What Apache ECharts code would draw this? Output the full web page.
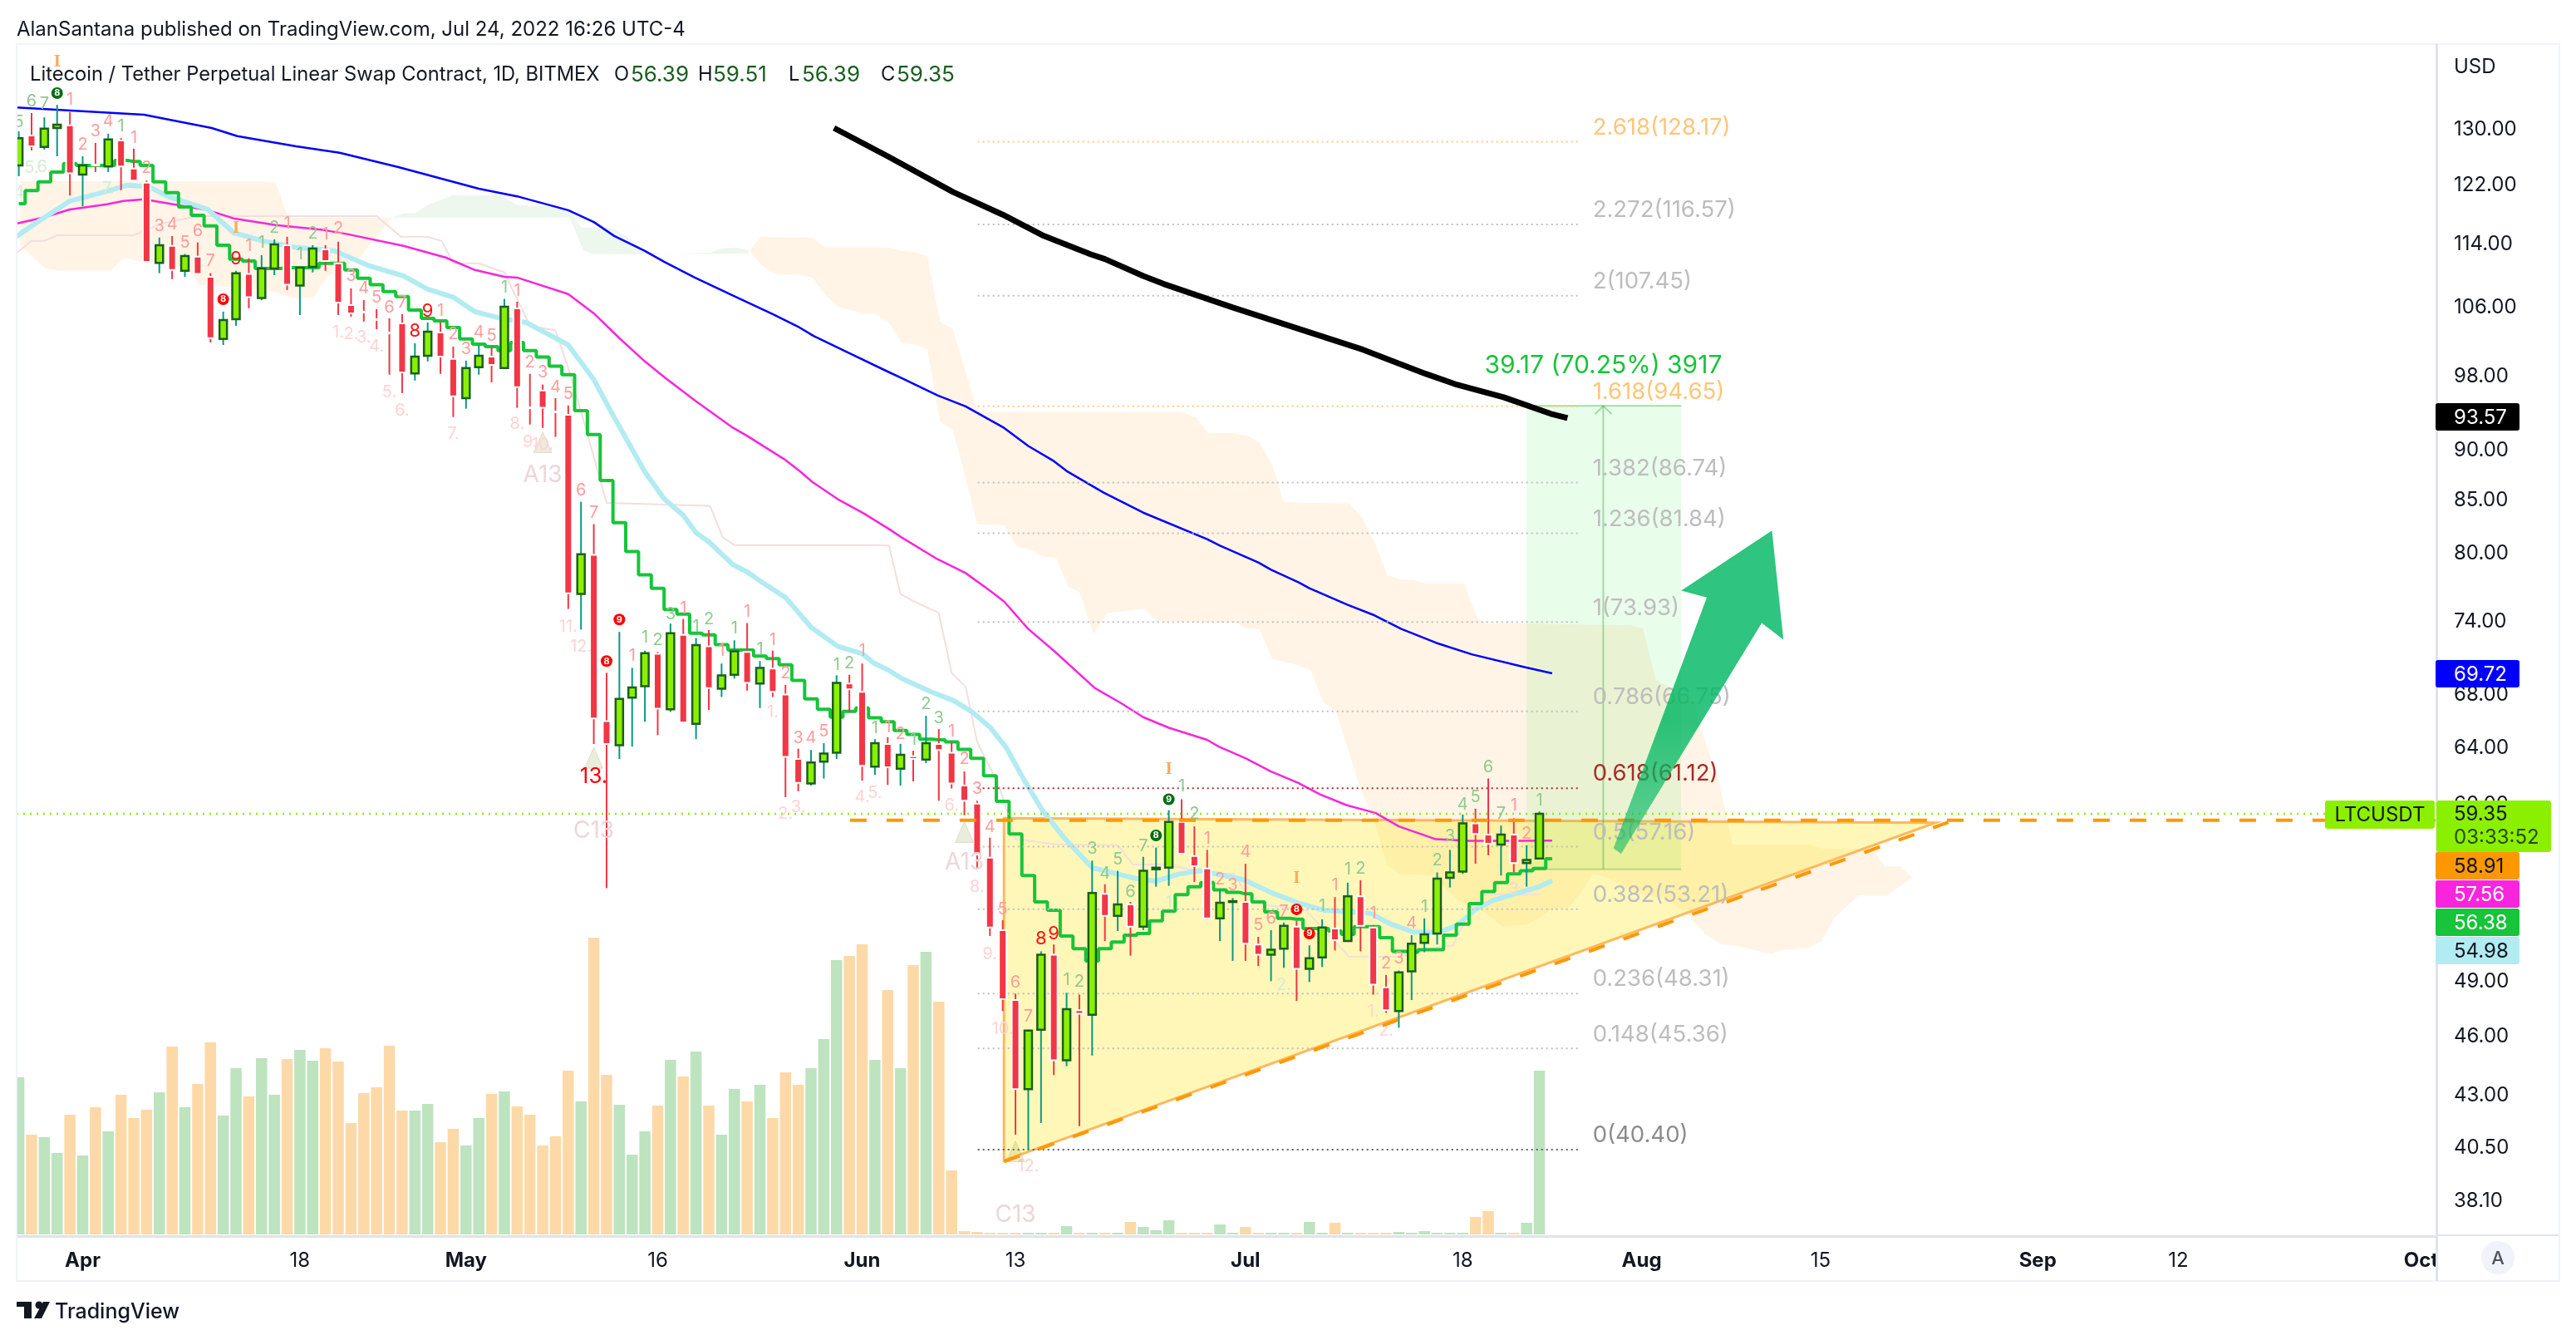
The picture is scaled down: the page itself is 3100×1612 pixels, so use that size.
<!DOCTYPE html>
<html><head><meta charset="utf-8">
<style>html,body{margin:0;padding:0;background:#fff}#c{width:3100px;height:1612px}</style>
<script src="https://cdn.jsdelivr.net/npm/echarts@6/dist/echarts.min.js"></script>
</head><body><div id="c"></div>
<script>
// Daily candles: first candle is day -5 (27 Mar), day 0 is 1 Apr 2022
const firstDay = -5;
const opens = [124.75,129.1,127.4,130.2,130.6,123.45,124.85,124.6,128.35,124.3,122.3,111.55,113.75,110.55,112.35,109.8,102.25,104.6,110.15,107.15,110.85,113.85,108.7,111.05,113.3,111.5,106.3,105.5,104.6,103,104.1,98.3,100.3,103,99.95,95.55,99,100.2,98.9,105.9,94.55,96.4,94.1,93.75,76.35,79.85,66,64.2,67.8,68.7,71.3,66.9,72.85,65.8,71.9,68.5,69.6,71.45,68.9,70.1,68.05,63.2,61.45,63,63.65,68.9,68.25,62.65,64.3,62.5,63.4,63.15,64.3,63.65,61.3,60.05,56.45,51.95,47.95,43.3,46.35,50.5,44.75,47.4,47.15,54.15,52.8,53.5,52.15,55.7,55.8,58.8,56.55,55.75,52.65,53.65,53.65,51.1,50.5,50.85,52.15,49.7,50.35,52.05,51.3,54,52.1,48.65,47.35,49.55,51.2,51.75,55.15,55.55,58.7,57.95,57.3,57.95,56.1,56.39];
const highs = [129.7,132.45,131.8,133.7,132.6,126.05,128,129.35,128.7,127.15,122.6,114.85,115.05,112.7,114.2,110.25,105.5,110.55,112.15,112.55,114.6,114.95,111.05,113.85,113.85,114.3,108.35,106.9,105.8,104.7,105.2,101.75,104.2,104.2,101.35,99.75,101.55,101.3,107.05,106.7,98.25,97.05,95.55,94.75,84.85,82.7,69.75,73.1,70.15,71.55,71.45,73.8,74.2,72.6,73.25,70.5,72.4,73.85,70.7,71.55,68.8,63.95,63.85,64.35,69.55,69.6,70.5,64.65,64.8,64.3,63.8,66.4,65.4,64.4,62.3,60.25,57.75,52.55,48.3,46.35,50.7,51.1,48.35,48.25,56.25,54.75,55.6,53.65,56.5,57.1,59.6,60.35,58.5,56.95,54.4,53.9,56.05,51.55,51.95,52.4,52.5,51.05,52.6,53.95,54.85,55,52.25,49.35,49.6,51.65,52.65,55.5,56.95,59.3,59.7,61.8,58.55,59.05,57.25,59.51];
const lows = [123.2,126.9,127,126.05,120.5,119.05,123.8,123.8,121.25,122.5,111.7,110.25,109.5,109.8,110.1,101.85,101.55,103.8,105.9,106.9,110,108.15,105.1,110.35,110.55,105.1,104.9,104.3,103.4,98.15,96.1,97.5,99.65,98.25,93.5,94.4,98.15,97.3,98.85,94.5,92.7,92.35,91.4,75.05,73.3,64.3,54.5,63.2,64.1,65.95,64.95,66.7,65.85,64.65,66.85,67.85,69.3,68.35,67,67.85,60.5,60.9,61.3,61.8,63.2,66.7,61.65,62.05,61.35,61.3,61.6,62.9,60.25,61.1,59.25,55.7,51.6,47.35,41.1,40.4,41.65,44,44.45,41.5,45,51.3,51.9,50.45,51.95,54.6,54.65,56.65,54.9,52.6,51.3,50.15,50.15,49.85,49,49.75,47.9,48.95,49.8,50.75,51.25,50.7,48.25,47.25,46.45,47.95,50.65,51.1,54.55,55.4,56.05,56.6,55.3,55.5,54.6,56.39];
const closes = [128.7,127.5,130.1,130.7,123.6,124.75,124.75,128.5,124.6,122.6,111.7,113.85,110.65,112.45,110.15,102.35,104.5,110.25,107.25,110.85,113.95,108.8,110.95,113.4,111.8,106.6,105.3,105.4,104.5,102.9,98.4,100.2,103.1,100.2,95.75,98.9,100.3,99.25,106.1,96.75,94.45,94.5,94.05,76.4,79.9,66.2,64.3,67.7,68.6,71.35,66.95,73,65.9,72,68.55,69.55,71.5,68.95,70.15,68.25,63.35,61.5,62.95,63.6,68.95,68.45,62.7,64.35,62.6,63.5,63.2,64.35,63.85,61.45,60.25,56.65,52.1,48,43.3,46.3,50.5,44.75,47.45,47.2,54.2,52.8,53.5,52.15,55.6,55.8,58.8,56.7,55.9,52.65,53.6,53.7,51.15,50.5,50.8,52.2,49.7,50.3,52.1,51.35,54,52.2,48.8,47.4,49.5,51.15,51.7,55.1,55.5,58.7,58,57.35,57.95,56.1,56.3,59.35];
const volumes = [189,120,117,98,144,95,153,124,168,140,150,171,226,153,181,231,143,200,166,212,168,211,222,209,224,208,134,170,177,227,149,149,157,111,127,107,140,169,172,154,144,107,118,197,160,357,192,156,96,124,155,210,190,220,155,120,175,160,180,140,195,180,200,235,330,335,349,210,294,200,324,340,280,77,4,3,2,2,2,2,2,2,10,2,2,2,2,15,9,5,17,2,2,2,12,2,9,2,2,2,2,15,2,14,2,2,2,2,3,2,4,2,2,2,21,28,2,2,14,197];

// Moving averages, read at their bends
const blueDays = [-5.2,4.8,10.1,12.1,16.7,20.1,24.7,31,34,38,40,41.6,44,45.5,47.9,50.9,54,56.1,57.2,60,63,64.2,66.9,69.1,72.1,74,76,77,79.9,83,88,89,92,93,95.2,96,99,101.1,103.2,105.9,108.7,112.9,115];
const blueValues = [133.3,132.2,130.2,129,127.5,126.55,124.5,121.45,120.4,118.5,116.9,115.05,113.1,111.7,109.7,107.45,105.2,103.6,102.6,100.6,98.5,97.7,95.85,94.65,92.35,90.45,88.9,87.9,85.75,83.8,81.3,80.7,79.15,78.5,77.35,76.85,75.4,74.5,73.35,72.2,71.25,70.2,69.72];
const magentaDays = [-5.2,-3.1,-1,1.9,3.2,4.8,6.8,9.8,11.8,15.1,18.8,20.7,25.1,28.4,30.7,33,34,38,40,42,44,45.5,48,50.9,52,54.9,56.1,57.1,59.1,61.1,63.1,64.1,66.9,69.1,71,72.1,74,76,79.2,81.3,83,85,88,88.9,91,93,95.1,96.8,98.9,101.2,103,105.9,108.5,112,115];
const magentaValues = [116.7,117.5,118.6,119.3,119.75,120,119.4,118.5,117.4,116.5,115.85,115.3,113.75,112.25,110.65,109.8,109.7,107.65,105.3,102.35,99.65,97.9,95.2,92.35,91.5,89.1,87.9,86.8,85.1,83.75,82.25,81.45,79.45,78.2,76.65,75.7,73.35,71.55,68.55,67.35,66.3,65.5,64.6,64.1,63.25,62.3,61.5,60.7,59.95,59.4,58.5,57.65,57.55,57.55,57.56];
const cyanDays = [-5.2,-3.8,-2.6,-1,1.9,3.5,5.2,6.8,9.8,11.8,14.1,16.7,19.7,22.4,25.1,27,29,30.7,32.7,34.7,38,40,41.5,44,45.5,47,48,49,50.9,52,53.2,55,57,59.1,61,61.9,63.1,64.1,66.4,68.2,69.6,71,72.3,73.7,75.1,76.9,79,82.5,84,85.8,87.5,90.8,93.1,95.1,97.1,99.1,100.8,102.4,104.1,106.1,107.6,109,110.4,112.3,114,115];
const cyanValues = [114.95,116.6,117.95,119.75,121.1,121.95,121.7,120.3,118.6,115.5,114.4,113.55,113.1,111.2,109.9,108.25,107.25,105.5,104.7,104.2,101.55,97.6,93.7,87.8,85.15,83.55,81.9,81.05,78.95,78.3,77.35,76.05,73.5,71.9,71.3,70.55,69.95,69.3,68.25,67.55,66.7,65.55,64,61.65,59.6,57.65,55.8,55.1,54.95,55.4,55.6,55.05,54.2,53.6,53.15,53.05,52.95,52.3,51.85,51.8,52.25,53.2,53.75,54.2,54.6,54.98];
// Stepped green line, one value per day from day -5 to day 115
const stepValues = [119.4,121.2,122.4,123.8,125,124.75,124.75,124.75,125.45,125.3,124.75,122.4,120.9,118.95,117.8,116.4,113.85,112.05,111.8,110.85,110.85,110.95,110.95,110.95,111.5,111.5,110.65,109.6,108.8,107.95,107.35,105.7,104.7,104.4,103.6,102.25,101.65,101.35,100.9,101.85,100.9,100.15,99.1,98.15,94.2,91.65,86.95,82.85,80.15,78.05,76.85,75,74.6,73,72.85,72.05,71.6,71.6,71.1,70.9,70.4,69.15,67.7,66.9,66.3,66.75,67,66.25,65.95,65.3,65,64.65,64.6,64.45,63.9,63.25,62,60.2,58,55.3,53.65,53.15,51.6,50.85,50.15,50.85,51.25,51.65,51.75,52.5,53.1,54.1,54.6,54.85,54.4,54.25,54.15,53.65,53.05,52.65,52.6,52.05,52.05,51.9,51.7,52.15,52.15,51.5,50.7,50.65,50.8,50.8,51.65,52.3,53.55,54.3,54.85,55.4,55.6,55.75,56.38];
const paleDays = [-5.2,-4,-3,-2,4,6,8.1,9.5,23,24.9,27,28.1,29,31,33,35,37,38,39.1,41,49.1,50.1,51,62.1,63.1,64,65,67,68,69.1,70,71.1,71.8,73,76.3,81,82.2,84.8,87.8,90.1,90.8,92.4,95.7,99.1,103.1,106.4,107.2,108.7,109.7,114.1];
const paleValues = [112.8,114.4,114.4,115.15,115.15,116.6,117.4,117.7,117.7,114.95,114.95,114.4,111.5,111.5,110.35,103.8,103.25,98.9,93.68,84.75,84.45,81.45,80.75,80.75,80.7,76.35,75.75,74.7,69.75,68.65,64.45,62.4,61.05,57.67,57.3,57.25,56,56,55.5,55.4,54.5,53.5,53.15,50.4,50.4,51,51,53.3,54.1,54.1];
const blackDays = [58.8,63,68.1,72,75.1,78.9,80,83,84.6,90,100.2,105.1,107.4,111.2,114.9,116.2];
const blackValues = [130.2,126.05,121,117.9,115.15,112.65,112.05,109.9,108.9,106,101,98.25,97.1,95.65,93.85,93.4];

// Cloud outlines as [day, price] running round each region
const cloudOrangeA = [[-4.9,122.5],[14.1,122.5],[15.1,122.3],[16.1,117.5],[24.2,117.5],[21.8,112.45],[19.1,109.8],[18.1,107.25],[16.7,107.05],[14.4,108.15],[9.1,108.8],[8.6,110.15],[6.8,111.7],[4.5,111.7],[3.2,112.25],[2.2,110.55],[-2,110.55],[-3,110.95],[-4.9,113.85]];
const cloudGreen = [[24.2,117.5],[25.1,118.1],[26,118.1],[27,119.2],[29,120.55],[32.7,120.55],[34,119.2],[36.3,119.05],[38.1,118.5],[39,116.2],[41.6,116],[42.9,114.6],[44,113.1],[45.5,112.65],[49.1,112.9],[50,113.4],[51.1,113.55],[52.1,113.2],[52.1,112.75],[40,112.65],[39.2,113.1],[38.1,117.5]];
const cloudOrangeB = [[52.2,113.1],[53.1,115.05],[54,114.85],[57.1,114.85],[58.1,113.55],[63.1,113.55],[64.1,113.1],[65,113],[66.1,112.45],[67.1,104.3],[68.1,103.4],[69.1,98.5],[70,94.05],[86,94.05],[87.1,93.5],[88.1,91.8],[90.1,91.8],[91.1,91.55],[92.1,90.8],[93.1,88.5],[94,84.8],[99.1,84.7],[100.2,83.2],[101.1,81],[102.1,78],[103.2,77.6],[104.1,77.6],[105,77.3],[108.1,77.3],[109.1,74.35],[109.8,73.85],[121.2,73.65],[122.1,73.4],[123.1,69.2],[124.5,68.45],[126.1,67.45],[126.6,65.55],[128.1,61.45],[128.6,59.35],[129.1,57.3],[135.2,57.3],[136,57.05],[140.2,56.95],[141,55.9],[142.2,55.9],[143.2,55.2],[141.2,54.05],[139,54.05],[137.1,52.7],[136.1,51.3],[135.1,50.9],[133.1,50.8],[132.1,50.55],[129.5,51],[128.1,51.15],[127,51.7],[125.5,52.95],[124,53.8],[121.6,54.2],[119.1,55.25],[118.2,55.4],[117.3,54.3],[116.3,53.3],[115,53.2],[113.1,52.3],[111.1,52.15],[109.7,53.05],[107.6,53.8],[105.6,55.3],[103.1,55.4],[102.1,55.95],[101.1,58.8],[100,61.05],[98.1,66.7],[97.1,67.45],[96.1,69.95],[95,70.4],[93.1,70.85],[92.1,73.3],[91.1,73.35],[90.3,73.85],[84,74],[83.1,75.05],[80.2,74.7],[79.1,72.95],[78,76.5],[77.1,77],[76.2,79.55],[75.1,79.7],[74.2,80.3],[73.1,80.6],[72.1,82.6],[70,82.7],[69.1,87.2],[68.1,92.1],[67.1,93],[66.1,101.1],[65.2,101.6],[64.1,101.75],[63.2,104],[62.1,105.2],[61.1,105.3],[59.1,106.1],[58.1,107.55],[57.1,109.7],[56.1,110],[54.1,110.15],[53.1,111.3],[52.2,113]];

// Fibonacci levels
const fibLevels = ['2.618','2.272','2','1.618','1.382','1.236','1','0.786','0.618','0.5','0.382','0.236','0.148','0'];
const fibPrices = [128.17,116.57,107.45,94.65,86.74,81.84,73.93,66.75,61.12,57.16,53.21,48.31,45.36,40.40];
const fibLabels = ['2.618(128.17)','2.272(116.57)','2(107.45)','1.618(94.65)','1.382(86.74)','1.236(81.84)','1(73.93)','0.786(66.75)','0.618(61.12)','0.5(57.16)','0.382(53.21)','0.236(48.31)','0.148(45.36)','0(40.40)'];

// Drawings
const triangle = [[72.1,59.05],[145,58.75],[72.1,39.9]];
const supportLine = [[72.1,39.85],[146,58.78]];
const resistanceLine = [[60.05,58.91],[184.2,58.91]];
const positionBox = {fromDay:113,toDay:125.1,top:94.7,bottom:55.7,midDay:119,labelPrice:99.3,label:'39.17 (70.25%) 3917'};
const bigArrow = [[119.8,57.05],[127.1,76.05],[125.1,76.65],[132.2,82.1],[133.1,72.45],[131.4,73.85],[120.4,56.7]];
const lastPrice = 59.35;

// Sequence counters: [day, price, text, kind]
const tdMarks = [
[-5,131.05,'5','g'],[-4,134.2,'6','g'],[-3,133.85,'7','g'],[-2,135.5,'8','cg'],[-1,134.5,'1','r'],[-2,140.4,'I','i'],[0,127.75,'2','r'],[1,129.7,'3','r'],[2,131.2,'4','r'],[3,130.45,'1','g'],[4,128.7,'1','r'],[5,124.4,'2','r'],[-4,124.4,'5.','q'],[-3,124.5,'6.','q'],[-5,120.9,'4','q'],[2,121.45,'7.','q'],
[6,116.4,'3','r'],[7,116.6,'4','r'],[8,114.2,'5','r'],[9,115.7,'6','r'],[10,111.8,'7','r'],[12,116.05,'I','i'],[12,112.05,'9','R'],[11,107,'8','cr'],[13,113.75,'1','r'],[14,114.2,'1','g'],[15,116.15,'2','g'],[16,116.7,'1','r'],[17,112.65,'1','g'],[18,115.4,'2','g'],[19,115.3,'1','r'],[20,116.05,'2','r'],[21,109.9,'3','r'],[22,108.35,'4','r'],[23,107.25,'5','r'],[24,106,'6','r'],[25,106.6,'7','r'],[26,103.2,'8','R'],[27,105.6,'9','R'],[28,105.6,'1','r'],[29,102.85,'2','r'],[30,101.1,'3','r'],[31,103,'4','r'],[32,102.65,'5','r'],[33,108.45,'1','g'],[34,108.05,'1','r'],[35,99.55,'2','r'],[36,98.4,'3','r'],[37,96.75,'4','r'],[38,96,'5','r'],
[20,103,'1.','p'],[21,102.85,'2.','p'],[22,102.45,'3.','p'],[23,101.35,'4.','p'],[24,96.2,'5.','p'],[25,94.2,'6.','p'],[29,91.75,'7.','p'],[34,92.8,'8.','p'],[35,90.85,'9.','p'],[36,90.8,'','tri'],[36,90.6,'10.','p'],[36,87.5,'A13','big'],[39,86,'6','r'],[40,83.75,'7','r'],[38,73.55,'11.','p'],[39,71.9,'12.','p'],[41,70.7,'8','cr'],[42,74.15,'9','cr'],[40,63.25,'','tri'],[40,61.95,'13.','R13'],[40,58.2,'C13','big'],[43,71.1,'1','r'],[44,72.6,'1','g'],[45,72.45,'2','g'],
[46,74.6,'3','g'],[47,75.1,'1','r'],[48,73.55,'1','g'],[49,74.15,'2','g'],[50,71.5,'1','r'],[51,73.4,'1','g'],[52,74.8,'1','r'],[53,71.65,'1','g'],[54,72.45,'1','r'],[55,69.7,'2','r'],[54,66.65,'1.','p'],[56,64.75,'3','r'],[57,64.75,'4','r'],[58,65.25,'5','r'],[59,70.4,'1','g'],[60,70.55,'2','g'],[61,71.55,'1','r'],[62,65.5,'1','g'],[63,65.55,'1','r'],[64,65.05,'2','r'],[65,64.6,'1','g'],[66,67.3,'2','g'],[67,66.25,'3','g'],[68,65.25,'1','r'],[69,63.2,'2','r'],[70,61.05,'3','r'],[71,58.45,'4','r'],[72,53.2,'5','r'],[73,48.9,'6','r'],
[55,59.35,'2.','p'],[56,59.8,'3.','p'],[61,60.5,'4.','p'],[62,60.8,'5.','p'],[68,59.9,'6.','p'],[69,58.1,'','tri'],[69,56.15,'A13','big'],[70,54.6,'8.','p'],[71,50.55,'9.','p'],[72,46.4,'10.','p'],[74,39.65,'12.','p'],[73,40.3,'','tri'],[73,37.5,'C13','big'],
[74,47.05,'7','r'],[75,51.45,'8','R'],[76,51.75,'9','R'],[77,49.05,'1','g'],[78,48.95,'2','g'],[79,57,'3','g'],[80,55.4,'4','g'],[81,56.35,'5','g'],[82,54.25,'6','g'],[83,57.2,'7','g'],[84,57.9,'8','cg'],[85,60.35,'9','cg'],[85,62.45,'I','i'],[86,61.25,'1','g'],[87,59.35,'2','g'],[88,57.67,'1','r'],[89,55.05,'2','r'],[90,54.7,'3','r'],[91,56.8,'4','r'],[92,52.25,'5','r'],[93,52.65,'6','r'],[94,53.05,'7','r'],[95,53.2,'8','cr'],[96,51.75,'9','cr'],[97,53.4,'1','g'],[98,54.7,'1','r'],[99,55.7,'1','g'],[100,55.75,'2','g'],[101,52.95,'1','r'],[102,50,'2','r'],[103,50.3,'3','r'],[104,52.35,'4','r'],[105,53.35,'1','g'],[106,56.25,'2','g'],[107,57.85,'3','g'],[108,60,'4','g'],[109,60.5,'5','g'],[110,62.6,'6','g'],[111,59.35,'7','g'],[112,59.9,'1','r'],[113,58,'2','r'],[114,60.25,'1','g'],
[85,53.6,'1','q'],[94,48.8,'2.','q'],[101,47.3,'1.','p'],[102,46.3,'2.','p'],[112,54.45,'3','p'],[95,55.15,'I','i']
];

// Axis ticks
const priceTicks = [130,122,114,106,98,90,85,80,74,68,64,60,56,52,49,46,43,40.5,38.1];
const timeTicks = [0,17,30,45,61,73,91,108,122,136,153,164,183];
const timeLabels = ['Apr','18','May','16','Jun','13','Jul','18','Aug','15','Sep','12','Oct'];
const monthLabels = ['Apr','May','Jun','Jul','Aug','Sep','Oct'];

// Price tags of the right scale
const priceTags = [['93.57','#000000','#ffffff',485,33],['69.72','#0000ff','#ffffff',794,33],['58.91','#ff9800','#131722',1025,33],['57.56','#f726dc','#ffffff',1059,33],['56.38','#17c43a','#ffffff',1093,33],['54.98','#b2ebf2','#131722',1127,33]];

const FONT = 'Inter, "Liberation Sans", sans-serif';
const UP = '#8bf000', UP_EDGE = '#1b5e20', UP_WICK = '#089981', DOWN = '#f23645';
const tdStyle = {
  g:{fill:'#8fc98f',font:'20px '+FONT}, r:{fill:'#ff9c9c',font:'20px '+FONT},
  q:{fill:'#d5ecd5',font:'20px '+FONT}, p:{fill:'#ffd3d3',font:'20px '+FONT},
  R:{fill:'#ff1010',font:'22px '+FONT}, R13:{fill:'#ff0000',font:'26px '+FONT},
  big:{fill:'#edd6d8',font:'28px '+FONT}, i:{fill:'#ffa95c',font:'bold 21px "Liberation Serif", serif'}
};
const pairs = (xs, ys) => xs.map((x, i) => [x, ys[i]]);
const candleRows = opens.map((o, i) => [firstDay + i, o, highs[i], lows[i], closes[i]]);
const stepDays = stepValues.map((_, i) => firstDay + i);
const volumeRows = volumes.map((v, i) => [firstDay + i, v]);

const polySeries = (name, poly, fill, z, stroke) => ({
  type:'custom', name, z, silent:true, clip:true, data:[[poly[0][0], poly[0][1]]], encode:{x:0,y:1},
  renderItem:(p, api) => ({type:'polygon', shape:{points:poly.map(q => api.coord(q))},
    style:{fill, stroke:stroke||null, lineWidth:stroke?3:0}})
});
const lineSeries = (name, data, color, width, z, extra) => Object.assign({
  type:'line', name, data, showSymbol:false, symbol:'none', z, silent:true,
  lineStyle:{color, width, cap:'butt'}, itemStyle:{color}
}, extra||{});

const option = {
  animation:false, backgroundColor:'#ffffff',
  grid:{left:20, top:53, width:2912, height:1434, containLabel:false},
  xAxis:{type:'value', min:-5.17, max:184.2, splitLine:{show:false},
    axisLine:{show:true,onZero:false,lineStyle:{color:'#e0e3eb',width:3}}, axisTick:{show:false},
    axisLabel:{customValues:timeTicks, margin:18, color:'#131722', fontFamily:FONT, fontSize:24,
      formatter:v => {const t = timeLabels[timeTicks.indexOf(v)]; return monthLabels.includes(t) ? '{b|'+t+'}' : t;},
      rich:{b:{fontWeight:'bold',fontSize:24,fontFamily:FONT,color:'#131722'}}}},
  yAxis:[
    {type:'log', logBase:10, min:36.59, max:143.34, position:'right', splitLine:{show:false},
     axisLine:{show:false}, axisTick:{show:false},
     axisLabel:{customValues:priceTicks, margin:21, color:'#131722', fontFamily:FONT, fontSize:24, align:'left', padding:[6,0,0,0],
       formatter:v => Number(v).toFixed(2)}},
    {type:'value', min:-2, max:1432, show:false}
  ],
  series:[
    polySeries('Cloud 1', cloudOrangeA, 'rgba(255,152,0,0.10)', 1),
    polySeries('Cloud 2', cloudGreen, 'rgba(76,175,80,0.10)', 1),
    polySeries('Cloud 3', cloudOrangeB, 'rgba(255,152,0,0.10)', 1),
    polySeries('Triangle', triangle, 'rgba(255,232,59,0.36)', 2, '#ffb85c'),
    {type:'custom', name:'Position', z:2, silent:true, clip:true, data:[[positionBox.fromDay, positionBox.top]], encode:{x:0,y:1},
     renderItem:(p, api) => {
       const a = api.coord([positionBox.fromDay, positionBox.top]), b = api.coord([positionBox.toDay, positionBox.bottom]);
       const m = api.coord([positionBox.midDay, positionBox.top]), n = api.coord([positionBox.midDay, positionBox.bottom]);
       const ln = {stroke:'#a5dca9', lineWidth:2};
       return {type:'group', children:[
         {type:'rect', shape:{x:a[0],y:a[1],width:b[0]-a[0],height:b[1]-a[1]}, style:{fill:'rgba(0,230,20,0.085)'}},
         {type:'line', shape:{x1:a[0],y1:a[1],x2:b[0],y2:a[1]}, style:ln},
         {type:'line', shape:{x1:a[0],y1:b[1],x2:b[0],y2:b[1]}, style:{stroke:'rgba(76,175,80,0.35)',lineWidth:2}},
         {type:'line', shape:{x1:m[0],y1:m[1],x2:n[0],y2:n[1]}, style:{stroke:'rgba(76,175,80,0.45)',lineWidth:2}},
         {type:'polyline', shape:{points:[[m[0]-10,m[1]+10],[m[0],m[1]],[m[0]+10,m[1]+10]]}, style:{stroke:'rgba(76,175,80,0.45)',lineWidth:2,fill:null}},
         {type:'text', style:{text:positionBox.label, x:m[0], y:api.coord([0,positionBox.labelPrice])[1]+1, fill:'#17c43a', font:'30px '+FONT, textAlign:'center', textVerticalAlign:'middle'}}
       ]};
     }},
    {type:'bar', name:'Volume', yAxisIndex:1, z:2, silent:true, barWidth:13.5, data:volumeRows, encode:{x:0,y:1},
     itemStyle:{color:p => closes[p.dataIndex] >= opens[p.dataIndex] ? '#bde3bf' : '#fdd9a8'}},
    lineSeries('Lagging', pairs(paleDays, paleValues), '#f3dede', 2, 3),
    lineSeries('EMA long', pairs(blueDays, blueValues), '#0000ff', 2.5, 4),
    lineSeries('EMA mid', pairs(magentaDays, magentaValues), '#f726dc', 2.5, 4),
    lineSeries('EMA short', pairs(cyanDays, cyanValues), '#b2ebf2', 6, 4),
    lineSeries('Stepped', pairs(stepDays, stepValues), '#17c43a', 4, 4, {step:'middle'}),
    {type:'custom', name:'Fib', z:5, silent:true, clip:true, data:fibPrices.map((v,i) => [70.05, v, i]), encode:{x:0,y:1},
     renderItem:(p, api) => {
       const i = api.value(2), lv = fibLevels[i];
       const a = api.coord([70.05, api.value(1)]), b = api.coord([117, api.value(1)]);
       const orange = lv==='2.618'||lv==='1.618', red = lv==='0.618', dark = lv==='0';
       const lc = orange ? '#ffca80' : red ? '#b22833' : dark ? '#5d606b' : '#bfbfbf';
       const tc = orange ? '#ffc67a' : red ? '#a92b2b' : dark ? '#8c8c8c' : '#bdbdbd';
       return {type:'group', children:[
         {type:'line', shape:{x1:a[0],y1:a[1],x2:b[0],y2:b[1]}, style:{stroke:lc,lineWidth:2,lineDash:[2,4]}},
         {type:'text', style:{text:fibLabels[i], x:b[0]+18, y:a[1]-17, fill:tc, font:'27.5px '+FONT, textAlign:'left', textVerticalAlign:'middle'}}
       ]};
     }},
    lineSeries('Last price', [[-5.17,lastPrice],[176,lastPrice]], '#8bf000', 3, 5, {lineStyle:{color:'#8bf000',width:2.5,type:[2,6]}}),
    {type:'custom', name:'Candles', z:7, silent:true, clip:true, data:candleRows, encode:{x:0,y:[1,2,3,4]},
     renderItem:(p, api) => {
       const d = api.value(0), o = api.value(1), h = api.value(2), l = api.value(3), c = api.value(4);
       const up = c >= o, x = api.coord([d,o])[0];
       const yh = api.coord([d,h])[1], yl = api.coord([d,l])[1];
       const yt = api.coord([d,Math.max(o,c)])[1], yb = api.coord([d,Math.min(o,c)])[1];
       return {type:'group', children:[
         {type:'line', shape:{x1:x,y1:yh,x2:x,y2:yl}, style:{stroke:up?UP_WICK:DOWN, lineWidth:2}},
         {type:'rect', shape:{x:x-4.5,y:yt,width:9,height:Math.max(yb-yt,1)},
          style: up ? {fill:UP,stroke:UP_EDGE,lineWidth:2.5} : {fill:DOWN,stroke:'#ffffff',lineWidth:2}}
       ]};
     }},
    {type:'custom', name:'Counters', z:8, silent:true, clip:true, data:tdMarks.map((m,i) => [m[0], m[1], i]), encode:{x:0,y:1},
     renderItem:(p, api) => {
       const m = tdMarks[api.value(2)], pt = api.coord([m[0], m[1]]), k = m[3];
       if (k === 'tri') return {type:'polygon', shape:{points:[[pt[0],pt[1]-13],[pt[0]+11,pt[1]+12],[pt[0]-11,pt[1]+12]]}, style:{fill:'rgba(139,150,60,0.18)',stroke:'rgba(139,150,60,0.22)',lineWidth:1}};
       if (k === 'cr' || k === 'cg') return {type:'group', children:[
         {type:'circle', shape:{cx:pt[0],cy:pt[1],r:7}, style:{fill:k==='cr'?'#ff0000':'#006b12'}},
         {type:'text', style:{text:m[2],x:pt[0],y:pt[1],fill:'#ffffff',font:'bold 11px '+FONT,textAlign:'center',textVerticalAlign:'middle'}}
       ]};
       const s = tdStyle[k];
       return {type:'text', style:{text:m[2],x:pt[0],y:pt[1],fill:s.fill,font:s.font,textAlign:'center',textVerticalAlign:'middle'}};
     }},
    lineSeries('Resistance', resistanceLine, '#ff9800', 4, 9, {lineStyle:{color:'#ff9800',width:4,type:[20,24]}}),
    lineSeries('Support', supportLine, '#ff9800', 4, 9, {lineStyle:{color:'#ff9800',width:4,type:[20,24]}}),
    lineSeries('Trend', pairs(blackDays, blackValues), '#000000', 7, 10),
    polySeries('Arrow', bigArrow, {type:'linear',x:0,y:0,x2:0,y2:1,colorStops:[{offset:0,color:'rgba(1,183,99,0.82)'},{offset:0.6,color:'rgba(1,183,99,0.82)'},{offset:1,color:'rgba(1,183,99,0.55)'}]}, 11)
  ],
  graphic:{elements:[]}
};

const g = option.graphic.elements;
const txt = (text, x, y, fill, font, align) => g.push({type:'text', z:100, silent:true, x, y, style:{text, fill, font, textAlign:align||'left', textVerticalAlign:'middle'}});
const rc = (x, y, w, h, fill, r) => g.push({type:'rect', z:90, silent:true, shape:{x,y,width:w,height:h,r:r||0}, style:{fill}});
// page margin left of the frame, then the frame
rc(0,53,19,1436,'#ffffff');
rc(19,52,3062,2,'#f0f3fa'); rc(19,52,2,1490,'#f0f3fa'); rc(3079,52,2,1490,'#f0f3fa'); rc(19,1540,3062,2,'#f0f3fa');
rc(2933,1488,146,52,'#ffffff'); rc(2931,53,3,1488,'#e0e3eb'); rc(2933,1485,146,2,'#e0e3eb');
g.push({type:'circle', z:95, silent:true, shape:{cx:3006,cy:1513,r:20}, style:{fill:'#f0f3fa'}});
txt('A',3006,1514,'#50535e','500 22px '+FONT,'center');
txt('USD',2953,81,'#131722','24px '+FONT);
// header
txt('AlanSantana published on TradingView.com, Jul 24, 2022 16:26 UTC-4',20,36,'#131722','24px '+FONT);
txt('Litecoin / Tether Perpetual Linear Swap Contract, 1D, BITMEX',36,90,'#131722','23.7px '+FONT);
[['O',739,'#131722'],['H',840,'#131722'],['L',949,'#131722'],['C',1060,'#131722']].forEach(s => txt(s[0],s[1],90,s[2],'23.7px '+FONT));
[['56.39',759],['59.51',858],['56.39',965],['59.35',1079]].forEach(s => txt(s[0],s[1],90,'#1b5e20','26px '+FONT));
// price tags
priceTags.forEach(t => { rc(2931,t[3],101,t[4],t[1],3); txt(t[0],2953,t[3]+t[4]/2+1,t[2],'24px '+FONT); });
rc(2798,963,132,34,'#8bf000',3); txt('LTCUSDT',2864,981,'#131722','24px '+FONT,'center');
rc(2932,963,138,62,'#8bf000',3); txt('59.35',2953,980,'#131722','24px '+FONT); txt('03:33:52',2953,1008,'#2a4a10','24px '+FONT);
// footer logo
rc(20,1566,18,6,'#131722'); rc(29,1566,9,20,'#131722');
g.push({type:'circle', z:95, silent:true, shape:{cx:47,cy:1570,r:4.5}, style:{fill:'#131722'}});
g.push({type:'polygon', z:95, silent:true, shape:{points:[[52,1566],[60,1566],[50,1586],[41,1586]]}, style:{fill:'#131722'}});
txt('TradingView',66,1578,'#131722','500 25px '+FONT);

echarts.init(document.getElementById('c'), null, {renderer:'canvas'}).setOption(option);
</script></body></html>
